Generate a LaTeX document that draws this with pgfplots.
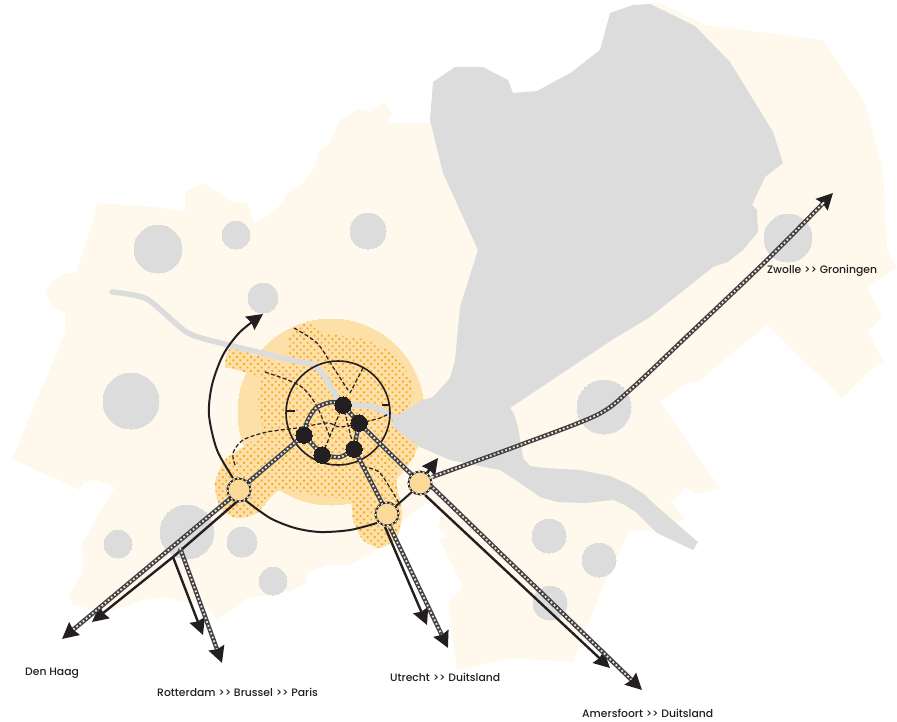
\documentclass[border=0pt]{standalone}
\usepackage{fontspec}
\setmainfont{Poppins}[UprightFont=* Medium]
\usepackage{pgfplots}
\pgfplotsset{compat=1.18}
\usetikzlibrary{arrows.meta,patterns.meta}

\definecolor{cream}{HTML}{FEF9EC}
\definecolor{lightor}{HTML}{FDE0A8}
\definecolor{dotor}{HTML}{F9A825}
\definecolor{greyzone}{HTML}{DCDCDC}
\definecolor{ink}{HTML}{231F20}
\definecolor{stationfill}{HTML}{FBD998}

\tikzset{
    dashline/.style={line width=1.2pt, color=ink, dash pattern=on 4pt off 2.2pt, smooth},
    blackline/.style={line width=2pt, color=ink},
    head/.style={-{Stealth[length=16pt,width=16pt,inset=1.5pt,color=ink]}},
    lab/.style={anchor=west, font=\fontsize{10.8}{12}\selectfont, text=ink, inner sep=0pt},
}

% filled circle of radius #3 at (#1,#2)
\newcommand{\disc}[4]{\addplot[only marks, mark=*, mark size=#3pt, mark options={fill=#4, draw=#4, line width=0pt}] coordinates {(#1,#2)};}
% rail: dark band, white sleepers on top
\newcommand{\rail}[2][]{%
  \addplot[line width=4.4pt, color=ink!85, #1] coordinates {#2};
  \addplot[line width=1.8pt, color=white!90!ink, dash pattern=on 1.8pt off 2.3pt, #1] coordinates {#2};}
\newcommand{\railarrow}[2][]{%
  \addplot[line width=4.4pt, color=ink!85, head, #1] coordinates {#2};
  \addplot[line width=1.8pt, color=white!90!ink, dash pattern=on 1.8pt off 2.3pt, shorten >=15pt, #1] coordinates {#2};}
\newcommand{\station}[2]{%
  \addplot[only marks, mark=*, mark size=11.5pt, mark options={fill=stationfill, draw=ink, line width=1.8pt}] coordinates {(#1,#2)};
  \addplot[only marks, mark=o, mark size=11.5pt, mark options={draw=white, line width=1pt, dash pattern=on 2pt off 2.5pt}] coordinates {(#1,#2)};}

\begin{document}
\begin{tikzpicture}
\begin{axis}[
    x=1pt, y=1pt,
    xmin=0, xmax=897, ymin=0, ymax=721,
    y dir=reverse,
    hide axis,
    clip=false,
    clip marker paths=true,
]
\path (axis cs:0,0) rectangle (axis cs:897,721);
% land
\addplot[fill=cream, draw=none] coordinates {
 (12,459) (65,333) (65,312) (53,308) (45,293) (53,280) (67,273) (76,273) (88,238) (97,203)
 (155,207) (185,212) (185,192) (203,183) (233,202) (248,203) (254,223) (263,219) (283,203)
 (287,193) (303,183) (315,167) (318,152) (330,143) (340,120) (358,109) (370,112) (385,103)
 (392,115) (385,123) (429,123) (440,110) (515,100) (570,80) (610,40) (650,4) (657,2) (705,25) (823,40) (865,102) (883,170)
 (887,250) (897,268) (867,287) (882,317) (868,332) (885,363) (877,364) (842,398) (767,325)
 (697,382) (683,385) (660,402) (720,488) (698,494) (685,488) (671,503) (685,518) (660,530) (630,530)
 (603,587) (573,662) (513,658) (457,670) (448,603) (463,587) (453,567) (440,540) (447,536)
 (438,527) (442,515) (430,502) (417,510) (403,522) (395,540) (350,565) (327,565) (308,572)
 (307,583) (287,592) (247,598) (217,620) (207,607) (163,597) (143,600) (107,612) (73,605)
 (68,595) (83,572) (82,543) (103,507) (115,487) (95,480) (83,483) (80,490) (12,459)};
% towns
\disc{158}{249}{24}{greyzone}
\disc{236}{235}{14}{greyzone}
\disc{368}{231}{18}{greyzone}
\disc{263}{298}{15}{greyzone}
\disc{131}{401}{28}{greyzone}
\disc{187}{532}{27}{greyzone}
\disc{118}{544}{14}{greyzone}
\disc{242}{542}{15}{greyzone}
\disc{273}{581}{14}{greyzone}
\disc{549}{536}{17}{greyzone}
\disc{599}{560}{17}{greyzone}
\disc{550}{603}{17}{greyzone}
\disc{604}{407}{27}{greyzone}
\disc{788}{238}{24}{greyzone}
% centre zone
\disc{331}{412}{93}{lightor}
\addplot[fill=lightor, draw=none, smooth, tension=0.4] coordinates {
 (225,367) (232,348) (287,365) (288,343) (295,327) (310,324) (323,333) (367,340) (397,357) (413,387)
 (408,412) (413,440) (417,447) (412,460) (398,470) (397,487) (402,513) (397,537) (380,548)
 (363,540) (353,520) (350,500) (323,497) (280,490) (257,513) (237,518) (220,508) (215,483)
 (225,460) (243,447) (262,432) (258,400) (260,378) (225,367)};
\addplot[pattern={Dots[radius=1.3pt,distance=5pt,angle=45]}, pattern color=dotor, draw=none, smooth, tension=0.4] coordinates {
 (225,367) (232,348) (287,365) (288,343) (295,327) (310,324) (323,333) (367,340) (397,357) (413,387)
 (408,412) (413,440) (417,447) (412,460) (398,470) (397,487) (402,513) (397,537) (380,548)
 (363,540) (353,520) (350,500) (323,497) (280,490) (257,513) (237,518) (220,508) (215,483)
 (225,460) (243,447) (262,432) (258,400) (260,378) (225,367)};
% lake and river
\addplot[fill=greyzone, draw=none] coordinates {
 (433,82) (455,67) (483,67) (508,80) (513,93) (537,91) (572,72) (587,60) (600,50) (610,13) (633,5)
 (650,4) (695,26) (730,62) (773,132) (783,163) (765,177) (752,205) (757,210) (758,232) (743,250)
 (728,262) (713,267) (650,317) (612,340) (510,408) (514,414) (518,427) (521,445) (523,458) (530,466)
 (545,468) (580,470) (610,476) (630,485) (645,495) (653,503) (698,542) (693,550) (657,533)
 (647,523) (637,513) (625,505) (613,500) (585,503) (557,502) (540,497) (520,483) (500,470)
 (475,465) (450,460) (420,447) (393,427) (393,418) (423,400) (433,397) (450,378) (455,360)
 (460,307) (478,250) (443,173) (430,120) (433,82)};
\addplot[line width=5.5pt, color=greyzone, line cap=round, line join=round, smooth, tension=0.4] coordinates {
 (112,292) (147,299) (188,333) (233,346) (300,362) (313,364) (325,377) (337,398) (343,404) (373,407) (397,418)};
% dashed lines
\addplot[dashline] coordinates {(294,328) (317,343) (333,367) (348,390)};
\addplot[dashline] coordinates {(265,372) (288,380) (303,388) (315,403) (323,420) (330,437)};
\addplot[dashline] coordinates {(235,465) (233,453) (243,440) (267,432) (297,428) (327,423) (340,427) (360,423) (380,418) (390,413)};
\addplot[dashline] coordinates {(363,368) (350,393)};
\addplot[dashline] coordinates {(343,405) (322,455)};
\addplot[dashline] coordinates {(343,405) (354,449)};
\addplot[dashline] coordinates {(363,467) (380,473) (400,505)};
% ring and arcs
\addplot[only marks, mark=o, mark size=52pt, mark options={draw=ink, line width=1.6pt}] coordinates {(338,413)};
\addplot[line width=1.4pt, color=ink] coordinates {(287,411) (295,411)};
\addplot[line width=1.4pt, color=ink] coordinates {(382,405) (390,405)};
\addplot[blackline, smooth, head] coordinates {
 (233,478) (217,450) (209,415) (212,385) (223,355) (240,332) (263,314)};
\addplot[blackline, smooth] coordinates {(245,500) (270,518) (295,528) (320,532) (350,530) (377,523)};
\addplot[blackline] coordinates {(396,506) (413,491)};
% black lines beside the rails
\addplot[line width=2.4pt, color=ink, head] coordinates {(240,499) (173,557) (92,622)};
\addplot[line width=2.4pt, color=ink, head] coordinates {(173,557) (203,635)};
\addplot[line width=2.4pt, color=ink, head] coordinates {(385,527) (427,625)};
\addplot[line width=2.4pt, color=ink, head] coordinates {(425,495) (610,668)};
\addplot[line width=2.6pt, color=ink, head] coordinates {(424,477) (438,458)};
% rails
\rail[smooth]{(304,435) (307,422) (316,408) (332,402) (343,405)}
\rail{(343,405) (359,423) (354,449)}
\rail[smooth]{(354,449) (340,457) (322,455)}
\rail{(322,455) (304,435)}
\rail{(304,435) (245,485)}
\rail{(359,423) (415,478)}
\rail{(354,449) (383,505)}
\railarrow{(232,497) (62,639)}
\railarrow{(180,548) (222,663)}
\railarrow{(390,527) (448,648)}
\railarrow{(430,485) (642,690)}
\railarrow[smooth]{(432,477) (520,445) (597,415) (630,390) (683,340) (767,260) (833,193)}
% stations
\disc{343}{405}{8.2}{ink}
\disc{359}{423}{8.2}{ink}
\disc{354}{449}{8.2}{ink}
\disc{322}{455}{8.2}{ink}
\disc{304}{435}{8.2}{ink}
\station{239}{490}
\station{387}{514}
\station{420}{483}
% labels
\node[lab] at (axis cs:25,673) {Den Haag};
\node[lab] at (axis cs:157,692) {Rotterdam >{}> Brussel >{}> Paris};
\node[lab] at (axis cs:390,677) {Utrecht >{}> Duitsland};
\node[lab] at (axis cs:582,713) {Amersfoort >{}> Duitsland};
\node[lab] at (axis cs:767,271) {Zwolle >{}> Groningen};
\end{axis}
\end{tikzpicture}
\end{document}
